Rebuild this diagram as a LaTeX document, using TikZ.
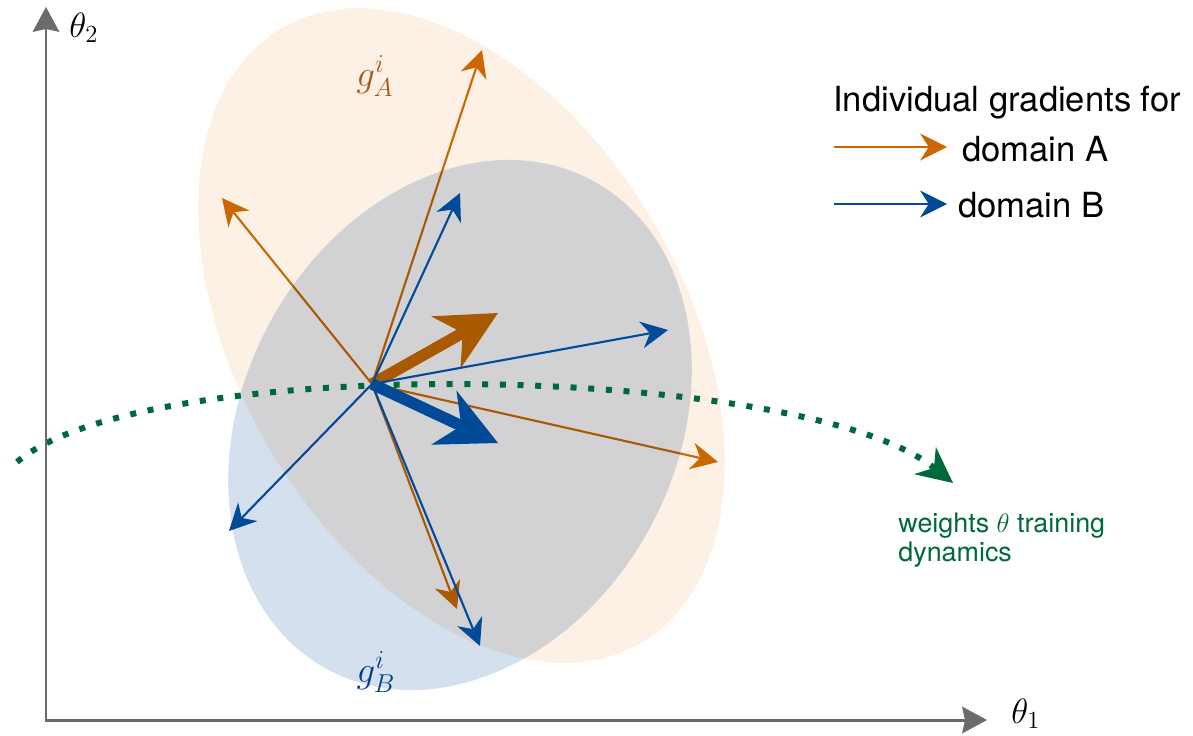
\RequirePackage{fix-cm}
\documentclass[tikz,border=0pt]{standalone}
\usepackage{fontspec}
\setsansfont{TeX Gyre Heros}
\usepackage{amsmath}
\usepackage{tikz}
\usetikzlibrary{arrows.meta}
\definecolor{DomainOrange}{HTML}{CC6600}
\definecolor{DomainBlue}{HTML}{004A98}
\definecolor{SoftOrange}{HTML}{FDF0E4}
\definecolor{SoftBlue}{HTML}{D4E0EE}
\definecolor{LabelOrange}{HTML}{A85A14}
\definecolor{LabelBlue}{HTML}{003F8A}
\definecolor{DynGreen}{HTML}{00693A}
\definecolor{AxisGrey}{HTML}{6B6B6B}
\tikzset{
  ax/.style={line width=1.7pt,draw=AxisGrey,
             {Stealth[length=0.5cm,width=0.54cm,inset=0.06cm,line width=0pt]}-{Stealth[length=0.5cm,width=0.54cm,inset=0.06cm,line width=0pt]}},
  gA/.style={-{Stealth[length=0.54cm,width=0.54cm,line width=0pt]},line width=1.2pt,draw=DomainOrange},
  gB/.style={-{Stealth[length=0.54cm,width=0.54cm,line width=0pt]},line width=1.2pt,draw=DomainBlue},
  mA/.style={gA,line width=0.23cm,-{Stealth[length=1.2cm,width=1.2cm,line width=0pt]}},
  mB/.style={gB,line width=0.23cm,-{Stealth[length=1.2cm,width=1.2cm,line width=0pt]}},
  dyn/.style={draw=DynGreen,line width=0.12cm,dash pattern=on 0.12cm off 0.234cm,
              -{Stealth[length=0.72cm,width=0.7cm,line width=0pt]}},
  LG/.style={font=\sffamily\fontsize{19.7}{24}\selectfont,inner sep=0pt,anchor=base west},
  TH/.style={font=\fontsize{20}{24}\selectfont,inner sep=0pt,anchor=west},
  GL/.style={font=\fontsize{21}{24}\selectfont,inner sep=0pt}
}
\begin{document}
\begin{tikzpicture}[x=0.02cm,y=0.02cm,every node/.style={align=left}]
  \useasboundingbox (0,0) rectangle (1193,735);

  % clouds of per-sample gradients
  \fill[SoftOrange,rotate around={-59.7:(461.5,399.5)}] (461.5,399.5) ellipse [x radius=356,y radius=223];

  \coordinate (c) at (372,351);
  \coordinate (a1) at (482,685);
  \coordinate (a2) at (222,537);
  \coordinate (a3) at (718,273);
  \coordinate (a4) at (457,126);
  \coordinate (am) at (498,422);
  \coordinate (b1) at (460,542);
  \coordinate (b2) at (668,405);
  \coordinate (b3) at (229,204);
  \coordinate (b4) at (480,89);
  \coordinate (bm) at (498,292);

  \draw[gA](c)--(a1);
  \draw[gA](c)--(a2);
  \draw[gA](c)--(a3);
  \draw[gA](c)--(a4);
  \draw[mA](c)--(am);

  \begin{scope}[blend mode=multiply]
    \fill[SoftBlue,rotate around={61.3:(460,310)}] (460,310) ellipse [x radius=278,y radius=216];
  \end{scope}

  % training dynamics
  \coordinate (d0) at (17,273);
  \coordinate (d1) at (147,383.5);
  \coordinate (d2) at (803,372);
  \coordinate (d3) at (953,252);
  \draw[dyn](d0) .. controls (d1) and (d2) .. (d3);

  \draw[gB](c)--(b1);
  \draw[gB](c)--(b2);
  \draw[gB](c)--(b3);
  \draw[gB](c)--(b4);
  \draw[mB](c)--(bm);

  % axes
  \coordinate (origin) at (46,15);
  \coordinate (xend) at (987,15);
  \coordinate (yend) at (46,728);
  \draw[ax](xend)--(origin)--(yend);
  \node[TH] (th1) at (1011,21) {$\theta_1$};
  \node[TH] (th2) at (69,707) {$\theta_2$};

  \node[GL,text=LabelOrange] (gAlab) at (375,659) {$g_A^i$};
  \node[GL,text=LabelBlue] (gBlab) at (376,63) {$g_B^i$};

  % legend
  \node[LG] (legtitle) at (833,623) {Individual gradients for};
  \node[LG] (legA) at (962,574) {domain A};
  \node[LG] (legB) at (958,518) {domain B};
  \coordinate (la0) at (834,588);
  \coordinate (la1) at (947,588);
  \coordinate (lb0) at (834,531);
  \coordinate (lb1) at (947,531);
  \draw[gA](la0)--(la1);
  \draw[gB](lb0)--(lb1);

  \node[font=\sffamily\fontsize{15.3}{16}\selectfont,text=DynGreen,inner sep=0pt,anchor=north west] (dynlab) at (898,222) {weights $\theta$ training\\dynamics};
\end{tikzpicture}
\end{document}
